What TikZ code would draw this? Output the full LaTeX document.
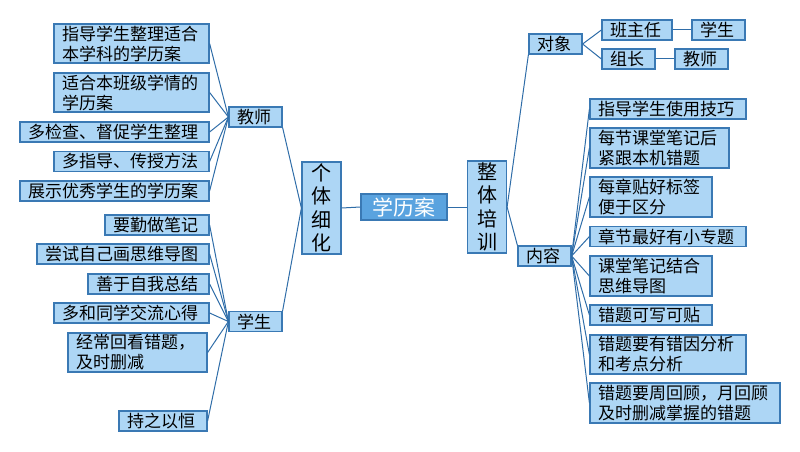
\documentclass[tikz,border=0pt]{standalone}
\usepackage{fontspec}
\newfontfamily\cjk{Noto Sans CJK SC}
\definecolor{boxfill}{HTML}{ADD6F5}
\definecolor{boxline}{HTML}{3A79B4}
\definecolor{linkc}{HTML}{2F6DA8}
\definecolor{centerfill}{HTML}{5AA3DF}
\tikzset{
  bx/.style={draw=boxline, fill=boxfill, line width=1.2pt, inner xsep=8pt, inner ysep=0pt,
    font=\cjk\fontsize{17}{20}\selectfont, align=left},
  vbx/.style={draw=boxline, fill=boxfill, line width=1.2pt, inner sep=0pt,
    font=\cjk\fontsize{20}{23.3}\selectfont, align=center, minimum width=39pt, minimum height=92pt},
  cbx/.style={draw=boxline, fill=centerfill, line width=1.2pt, inner sep=0pt, text=white,
    font=\cjk\fontsize{21}{24}\selectfont, minimum width=86pt, minimum height=26pt},
  lk/.style={draw=linkc, line width=1pt}
}
\newcommand{\bxn}[6]{\node[bx, text width=#4pt-16pt, minimum height=#5pt] (#1) at (#2,#3) {#6};}
\begin{document}
\begin{tikzpicture}[x=1pt,y=-1pt]
\useasboundingbox (0,0) rectangle (800,452);
% left branch
\bxn{t1}{131.5}{43.5}{155}{39}{指导学生整理适合\\本学科的学历案}
\bxn{t2}{131.5}{92.5}{155}{39}{适合本班级学情的\\学历案}
\bxn{t3}{114.5}{132}{189}{20}{多检查、督促学生整理}
\bxn{t4}{131.5}{161.5}{155}{20}{多指导、传授方法}
\bxn{t5}{114.5}{191}{189}{20}{展示优秀学生的学历案}
\bxn{teacher}{255.5}{117}{53}{20}{教师}
\bxn{s1}{157}{225}{104}{20}{要勤做笔记}
\bxn{s2}{123}{254}{172}{20}{尝试自己画思维导图}
\bxn{s3}{148.5}{284}{121}{20}{善于自我总结}
\bxn{s4}{131.5}{313}{155}{20}{多和同学交流心得}
\bxn{s5}{137.5}{352.5}{139}{39}{经常回看错题，\\及时删减}
\bxn{s6}{163}{421}{88}{20}{持之以恒}
\bxn{student}{255.5}{321.5}{53}{20}{学生}
\node[vbx] (geti) at (321.5,208) {个\\体\\细\\化};
\node[cbx] (center) at (404,207) {学历案};
\node[vbx] (zhengti) at (487,207) {整\\体\\培\\训};
% right branch
\bxn{duixiang}{555.5}{44}{53}{20}{对象}
\bxn{bzr}{637}{30}{70}{20}{班主任}
\bxn{xs}{718.5}{30}{53}{20}{学生}
\bxn{zz}{628.5}{59}{53}{20}{组长}
\bxn{js}{701.5}{59}{53}{20}{教师}
\bxn{neirong}{544.5}{256}{53}{20}{内容}
\bxn{r1}{668}{109}{156}{20}{指导学生使用技巧}
\bxn{r2}{659.5}{148}{139}{40}{每节课堂笔记后\\紧跟本机错题}
\bxn{r3}{651}{197}{122}{40}{每章贴好标签\\便于区分}
\bxn{r4}{668}{236.5}{156}{20}{章节最好有小专题}
\bxn{r5}{651}{276}{122}{40}{课堂笔记结合\\思维导图}
\bxn{r6}{651}{315}{122}{20}{错题可写可贴}
\bxn{r7}{668}{354.5}{156}{39}{错题要有错因分析\\和考点分析}
\bxn{r8}{685}{403}{190}{40}{错题要周回顾，月回顾\\及时删减掌握的错题}
% connectors
\begin{scope}[on background layer/.try]
\end{scope}
\foreach \n in {t1,t2,t3,t4,t5} \draw[lk] (\n.east) -- (teacher.west);
\foreach \n in {s1,s2,s3,s4,s5,s6} \draw[lk] (\n.east) -- (student.west);
\draw[lk] (teacher.south east) -- (geti.west);
\draw[lk] (student.north east) -- (geti.west);
\draw[lk] (geti.east) -- (center.west);
\draw[lk] (center.east) -- (zhengti.west);
\draw[lk] (zhengti.east) -- (duixiang.south west);
\draw[lk] (zhengti.east) -- (neirong.north west);
\draw[lk] (duixiang.east) -- (bzr.west);
\draw[lk] (duixiang.east) -- (zz.west);
\draw[lk] (bzr.east) -- (xs.west);
\draw[lk] (zz.east) -- (js.west);
\foreach \n in {r1,r2,r3,r4,r5,r6,r7,r8} \draw[lk] (neirong.east) -- (\n.west);
\end{tikzpicture}
\end{document}
